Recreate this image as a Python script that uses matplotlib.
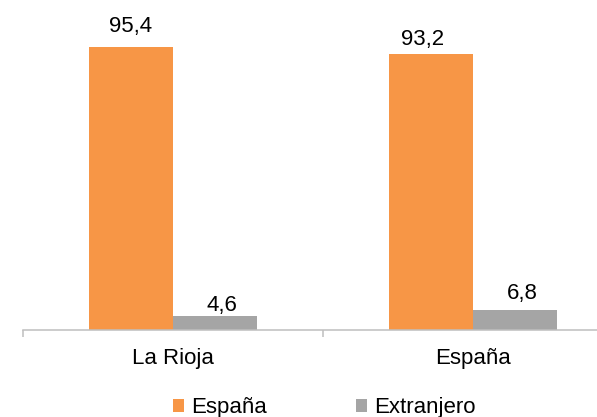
import numpy as np
import matplotlib
matplotlib.use("Agg")
import matplotlib.pyplot as plt

plt.rcParams["font.family"] = ["Liberation Sans", "DejaVu Sans"]

# ---------------- DATA ----------------
categories = ["La Rioja", "España"]
series_names = ["España", "Extranjero"]
espana = [95.4, 93.2]
extranjero = [4.6, 6.8]
value_labels_es = ["95,4", "93,2"]
value_labels_ex = ["4,6", "6,8"]

colors = ["#F79646", "#A5A5A5"]
axis_color = "#BFBFBF"

# hand placed labels in the original (points)
label_dx = [[0, 5], [-5.8, 5]]
label_dy = [[10.8, 3.6], [6.5, 7.9]]

# ---------------- PLOT ----------------
fig = plt.figure(figsize=(5.97, 4.17), dpi=100)
ax = fig.add_axes([23 / 597, 87 / 417, 600 / 597, 296.6 / 417])

x = np.arange(len(categories))
w = 0.28
bars_es = ax.bar(x - w / 2, espana, w, color=colors[0], label=series_names[0])
bars_ex = ax.bar(x + w / 2, extranjero, w, color=colors[1], label=series_names[1])

for i in range(len(categories)):
    for j, (bars, labels) in enumerate([(bars_es, value_labels_es),
                                        (bars_ex, value_labels_ex)]):
        b = bars[i]
        ax.annotate(labels[i],
                    (b.get_x() + b.get_width() / 2, b.get_height()),
                    xytext=(label_dx[i][j], label_dy[i][j]),
                    textcoords="offset points",
                    ha="center", va="baseline", fontsize=16, color="black")

ax.set_xlim(-0.5, 1.5)
ax.set_ylim(0, 100)

for s in ["top", "right", "left"]:
    ax.spines[s].set_visible(False)
ax.spines["bottom"].set_color(axis_color)
ax.spines["bottom"].set_linewidth(1.1)

ax.set_yticks([])
ax.set_xticks(x)
ax.set_xticklabels(categories, fontsize=16)
ax.tick_params(axis="x", which="major", length=0, pad=13)
ax.set_xticks([-0.5, 0.5, 1.5], minor=True)
ax.tick_params(axis="x", which="minor", length=5, width=1.1,
               color=axis_color, direction="out")

fig.legend(handles=[bars_es, bars_ex], labels=series_names,
           loc="center", bbox_to_anchor=(324 / 597, 9 / 417),
           ncol=2, frameon=False, fontsize=16,
           handlelength=0.5, handleheight=0.5, handletextpad=0.32,
           columnspacing=4.0, borderpad=0, borderaxespad=0)

fig.savefig("out.png", dpi=100)
